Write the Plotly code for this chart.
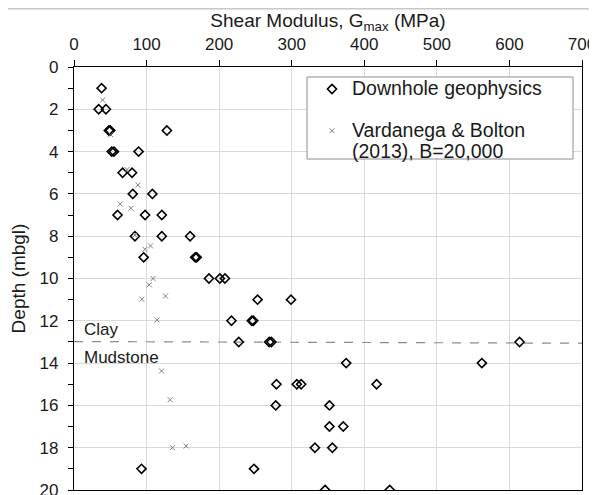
import plotly.graph_objects as go

# ---- data ----
downhole_gmax = [38, 34, 44, 48, 50, 128, 52, 55, 89, 67, 80, 81, 108, 60, 98, 121,
                 84, 121, 160, 96, 167, 169, 186, 201, 208, 253, 299, 217, 245, 247,
                 227, 269, 272, 614, 375, 562, 279, 307, 313, 417, 278, 352, 352, 371,
                 332, 356, 93, 248, 346, 435]
downhole_depth = [1, 2, 2, 3, 3, 3, 4, 4, 4, 5, 5, 6, 6, 7, 7, 7,
                  8, 8, 8, 9, 9, 9, 10, 10, 10, 11, 11, 12, 12, 12,
                  13, 13, 13, 13, 14, 14, 15, 15, 15, 15, 16, 16, 17, 17,
                  18, 18, 19, 19, 20, 20]

vb_gmax = [39.5, 50.5, 73, 88, 63.7, 78.4, 84, 105.5, 97.7, 109, 103.6, 126, 93.5,
           114.6, 120.6, 132.5, 154.5, 135.7]
vb_depth = [1.56, 3.2, 4.85, 5.58, 6.48, 6.68, 7.95, 8.46, 8.62, 10.0, 10.3, 10.83, 10.98,
            11.96, 14.37, 15.73, 17.92, 18.0]

boundary_gmax = [0, 700]
boundary_depth = [12.98, 13.06]

x_ticks = [0, 100, 200, 300, 400, 500, 600, 700]
y_ticks = [0, 2, 4, 6, 8, 10, 12, 14, 16, 18, 20]

FONT = "Liberation Sans, Arial, sans-serif"


def big(t):
    return '<span style="font-size:19.5px">' + t + '</span>'


fig = go.Figure()

fig.add_trace(go.Scatter(
    x=boundary_gmax, y=boundary_depth, mode="lines",
    line=dict(color="#8c8c8c", width=1.2, dash="dash"),
    showlegend=False, hoverinfo="skip"))

fig.add_trace(go.Scatter(
    x=downhole_gmax, y=downhole_depth, mode="markers",
    name=big("Downhole geophysics"), legendgroup="a",
    marker=dict(symbol="diamond-open", size=7, color="black",
                line=dict(color="black", width=1.6))))

fig.add_trace(go.Scatter(
    x=vb_gmax, y=vb_depth, mode="markers",
    name=big("Vardanega & Bolton") + "<br>" + big("(2013), B=20,000"), legendgroup="b",
    marker=dict(symbol="x-thin-open", size=5, color="#808080",
                line=dict(color="#808080", width=1))))

fig.add_annotation(x=11, y=12.4, text="Clay", showarrow=False,
                   xanchor="left", yanchor="middle",
                   font=dict(family=FONT, size=17, color="#1a1a1a"))
fig.add_annotation(x=11, y=13.74, text="Mudstone", showarrow=False,
                   xanchor="left", yanchor="middle",
                   font=dict(family=FONT, size=17, color="#1a1a1a"))

# legend frame (drawn as a box behind the legend entries)
fig.add_shape(type="rect", xref="paper", yref="paper", layer="above",
              x0=0.4587, x1=0.9823, y0=0.7825, y1=0.9764,
              fillcolor="white", line=dict(color="#8c8c8c", width=1))

# thin grey line along the very top of the picture
fig.add_shape(type="line", xref="paper", yref="paper",
              x0=-0.2, x1=1.1, y0=1.1375, y1=1.1375,
              line=dict(color="#c8c8c8", width=1.5))

fig.update_layout(
    width=589, height=487,
    margin=dict(l=66, r=15, t=59, b=5),
    paper_bgcolor="white", plot_bgcolor="white",
    font=dict(family=FONT, size=17, color="#1a1a1a"),
    legend=dict(x=0.4685, y=0.988, xanchor="left", yanchor="top",
                bgcolor="rgba(0,0,0,0)", borderwidth=0,
                font=dict(family=FONT, size=16, color="#1a1a1a"),
                valign="top", tracegroupgap=18),
    xaxis=dict(
        side="top", range=[0, 700], tickvals=x_ticks, automargin=False,
        showline=True, linecolor="black", linewidth=1.2, mirror=True,
        ticks="outside", ticklen=6, tickcolor="black",
        showgrid=True, gridcolor="#d9d9d9", gridwidth=1,
        zeroline=False, ticklabelstandoff=3, ticklabeloverflow="allow",
        tickfont=dict(family=FONT, size=17, color="#1a1a1a"),
        title=dict(text="Shear Modulus, G<sub>max</sub> (MPa)",
                   font=dict(family=FONT, size=19, color="#1a1a1a"),
                   standoff=2)),
    yaxis=dict(
        range=[20, 0], tickvals=y_ticks, automargin=False,
        showline=True, linecolor="black", linewidth=1.2, mirror=True,
        ticks="outside", ticklen=5, tickcolor="black",
        showgrid=True, gridcolor="#d9d9d9", gridwidth=1,
        zeroline=False, ticklabelstandoff=6, ticklabeloverflow="allow",
        minor=dict(dtick=1, ticks="outside", ticklen=5, tickcolor="black", showgrid=False),
        tickfont=dict(family=FONT, size=17, color="#1a1a1a"),
        title=dict(text="Depth (mbgl)",
                   font=dict(family=FONT, size=19, color="#1a1a1a"),
                   standoff=8)),
)

fig.write_html("out.html")
